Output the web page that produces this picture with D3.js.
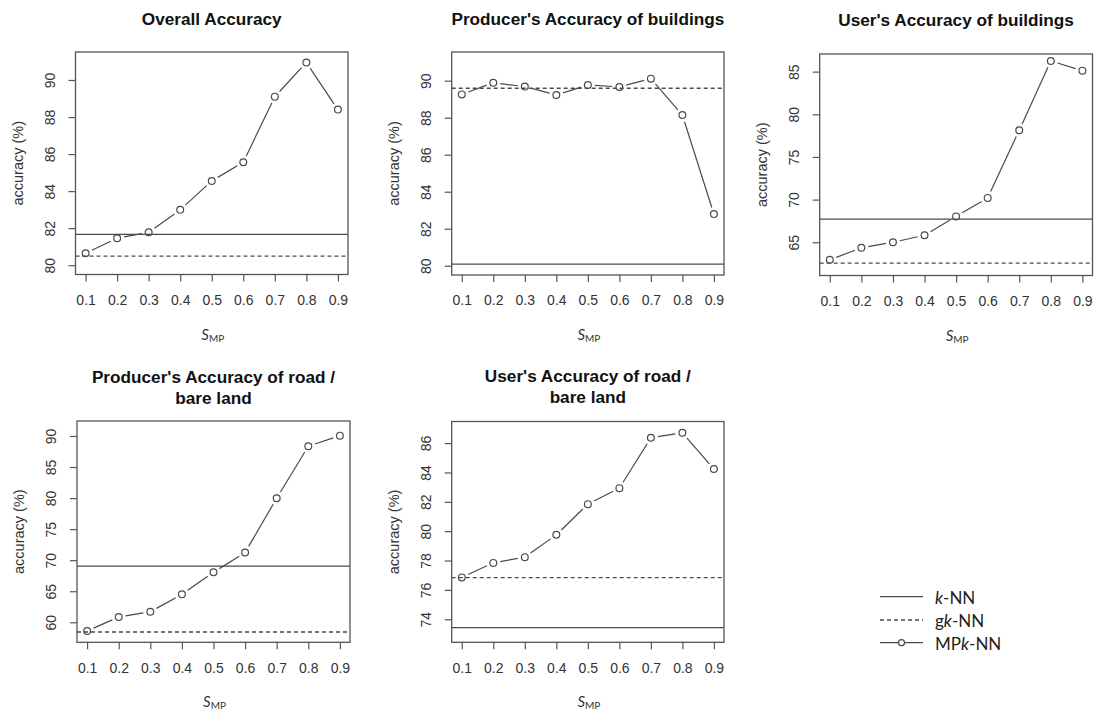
<!DOCTYPE html>
<html>
<head>
<meta charset="utf-8">
<script src="https://cdn.jsdelivr.net/npm/d3@7"></script>
<style>
  body { margin: 0; background: #fff; }
  svg { display: block; }
</style>
</head>
<body>
<svg id="chart" width="1097" height="713"></svg>
<script>
// Threshold values S_MP on the x axis
const sMP = [0.1, 0.2, 0.3, 0.4, 0.5, 0.6, 0.7, 0.8, 0.9];

// MPk-NN accuracy (%) for each S_MP
const overallAccuracy    = [80.65, 81.46, 81.78, 82.99, 84.55, 85.56, 89.10, 90.94, 88.40];
const producersBuildings = [89.26, 89.89, 89.68, 89.23, 89.77, 89.66, 90.11, 88.14, 82.79];
const usersBuildings     = [62.94, 64.35, 65.00, 65.82, 68.03, 70.20, 78.13, 86.25, 85.12];
const producersRoad      = [58.60, 60.85, 61.70, 64.50, 68.04, 71.25, 79.98, 88.34, 90.05];
const usersRoad          = [76.85, 77.84, 78.23, 79.75, 81.84, 82.93, 86.36, 86.70, 84.23];

// Reference accuracies (one per panel, same order as the series above)
const kNNAccuracy  = [81.67, 80.09, 67.70, 69.05, 73.43];
const gkNNAccuracy = [80.49, 89.59, 62.54, 58.44, 76.84];

// Panel titles (one array of lines per panel)
const panelTitles = [
  ["Overall Accuracy"],
  ["Producer's Accuracy of buildings"],
  ["User's Accuracy of buildings"],
  ["Producer's Accuracy of road /", "bare land"],
  ["User's Accuracy of road /", "bare land"]
];

// Y-axis tick labels per panel
const yTickValues = [
  [80, 82, 84, 86, 88, 90],
  [80, 82, 84, 86, 88, 90],
  [65, 70, 75, 80, 85],
  [60, 65, 70, 75, 80, 85, 90],
  [74, 76, 78, 80, 82, 84, 86]
];

const seriesList = [overallAccuracy, producersBuildings, usersBuildings, producersRoad, usersRoad];

// Y-axis limits per panel
const yLimits = [
  [79.5, 91.51],
  [79.5, 91.55],
  [61.1, 87.07],
  [56.78, 92.41],
  [72.43, 87.47]
];

// Plot-region geometry (pixels)
const frames = [
  { left: 75.5,  right: 348,    top: 52,  bottom: 274.5, titleY: 25 },
  { left: 451.7, right: 724,    top: 52,  bottom: 275,   titleY: 25 },
  { left: 819.7, right: 1092.5, top: 54,  bottom: 275.5, titleY: 26 },
  { left: 77,    right: 350,    top: 421, bottom: 642.3, titleY: 383 },
  { left: 451.7, right: 724,    top: 421.5, bottom: 642.3, titleY: 382 }
];

const INK = "#4a4a4a";
const BOX = "#555";
const TXT = "#333";
const SANS = "'Liberation Sans', Arial, sans-serif";
const HUMAN = "Lato, 'Open Sans', sans-serif";

const svg = d3.select("#chart");

seriesList.forEach((values, i) => {
  const f = frames[i];
  const g = svg.append("g");

  // R-style 4% padding around the x range
  const xPad = (d3.max(sMP) - d3.min(sMP)) * 0.04;
  const x = d3.scaleLinear()
    .domain([d3.min(sMP) - xPad, d3.max(sMP) + xPad])
    .range([f.left, f.right]);
  const y = d3.scaleLinear()
    .domain(yLimits[i])
    .range([f.bottom, f.top]);

  // x axis
  const xAxis = g.append("g")
    .attr("transform", `translate(0,${f.bottom})`)
    .call(d3.axisBottom(x).tickValues(sMP).tickSize(7).tickFormat(d3.format(".1f")));
  xAxis.select(".domain").remove();
  xAxis.selectAll(".tick line").attr("stroke", BOX).attr("stroke-width", 1.2);
  xAxis.selectAll(".tick text")
    .attr("y", 25.5).attr("dy", "0.35em")
    .attr("fill", TXT)
    .style("font-family", SANS).style("font-size", "14px");

  // y axis with rotated labels
  const yAxis = g.append("g")
    .attr("transform", `translate(${f.left},0)`)
    .call(d3.axisLeft(y).tickValues(yTickValues[i]).tickSize(7).tickFormat(d3.format("d")));
  yAxis.select(".domain").remove();
  yAxis.selectAll(".tick line").attr("stroke", BOX).attr("stroke-width", 1.2);
  yAxis.selectAll(".tick text")
    .attr("x", null).attr("dy", null)
    .attr("transform", "translate(-26,0) rotate(-90)")
    .attr("text-anchor", "middle")
    .attr("dominant-baseline", "central")
    .attr("fill", TXT)
    .style("font-family", SANS).style("font-size", "14px");

  // reference lines
  g.append("line")
    .attr("x1", f.left).attr("x2", f.right)
    .attr("y1", y(kNNAccuracy[i])).attr("y2", y(kNNAccuracy[i]))
    .attr("stroke", INK).attr("stroke-width", 1.3);
  g.append("line")
    .attr("x1", f.left).attr("x2", f.right)
    .attr("y1", y(gkNNAccuracy[i])).attr("y2", y(gkNNAccuracy[i]))
    .attr("stroke", INK).attr("stroke-width", 1.3)
    .attr("stroke-dasharray", "4,3");

  // MPk-NN: points joined by segments that stop short of the markers
  const pts = values.map((v, k) => [x(sMP[k]), y(v)]);
  const gap = 7;
  for (let k = 0; k < pts.length - 1; k++) {
    const [x0, y0] = pts[k], [x1, y1] = pts[k + 1];
    const len = Math.hypot(x1 - x0, y1 - y0);
    if (len <= 2 * gap) continue;
    const ux = (x1 - x0) / len, uy = (y1 - y0) / len;
    g.append("line")
      .attr("x1", x0 + ux * gap).attr("y1", y0 + uy * gap)
      .attr("x2", x1 - ux * gap).attr("y2", y1 - uy * gap)
      .attr("stroke", INK).attr("stroke-width", 1.2);
  }
  g.selectAll("circle.pt").data(pts).join("circle")
    .attr("class", "pt")
    .attr("cx", d => d[0]).attr("cy", d => d[1])
    .attr("r", 3.4)
    .attr("fill", "none")
    .attr("stroke", INK).attr("stroke-width", 1.2);

  // plot frame
  g.append("rect")
    .attr("x", f.left).attr("y", f.top)
    .attr("width", f.right - f.left).attr("height", f.bottom - f.top)
    .attr("fill", "none").attr("stroke", BOX).attr("stroke-width", 1.3);

  // title
  const cx = (f.left + f.right) / 2;
  const title = g.append("text")
    .attr("x", cx).attr("y", f.titleY)
    .attr("text-anchor", "middle")
    .attr("fill", "#111")
    .style("font-family", SANS).style("font-weight", "bold").style("font-size", "17.2px");
  panelTitles[i].forEach((line, li) => {
    title.append("tspan").attr("x", cx).attr("dy", li === 0 ? 0 : 21).text(line);
  });

  // y label
  const cy = (f.top + f.bottom) / 2;
  g.append("text")
    .attr("transform", `translate(${f.left - 58},${cy}) rotate(-90)`)
    .attr("text-anchor", "middle")
    .attr("dominant-baseline", "central")
    .attr("fill", TXT)
    .style("font-family", SANS).style("font-size", "14.5px")
    .text("accuracy (%)");

  // x label: S_MP
  const xl = g.append("text")
    .attr("x", cx + 1).attr("y", f.bottom + 65)
    .attr("text-anchor", "middle")
    .attr("fill", TXT)
    .style("font-family", HUMAN).style("font-size", "15px");
  xl.append("tspan").style("font-style", "italic").text("S");
  xl.append("tspan").attr("dy", 2).style("font-size", "10px").text("MP");
});

// legend
const legendItems = [
  { label: ["", "k", "-NN"], dash: null, marker: false },
  { label: ["g", "k", "-NN"], dash: "4,3", marker: false },
  { label: ["MP", "k", "-NN"], dash: null, marker: true }
];
const legendRows = [596.7, 620, 642.7];
const lg = svg.append("g");
legendItems.forEach((item, j) => {
  const ly = legendRows[j];
  lg.append("line")
    .attr("x1", 880).attr("x2", 923).attr("y1", ly).attr("y2", ly)
    .attr("stroke", INK).attr("stroke-width", 1.3)
    .attr("stroke-dasharray", item.dash);
  if (item.marker) {
    lg.append("circle").attr("cx", 901.5).attr("cy", ly).attr("r", 3)
      .attr("fill", "#fff").attr("stroke", INK).attr("stroke-width", 1.2);
  }
  const t = lg.append("text")
    .attr("x", 935).attr("y", ly)
    .attr("dominant-baseline", "central")
    .attr("fill", "#222")
    .style("font-family", HUMAN).style("font-size", "17px");
  t.append("tspan").text(item.label[0]);
  t.append("tspan").style("font-style", "italic").text(item.label[1]);
  t.append("tspan").text(item.label[2]);
});
</script>
</body>
</html>
